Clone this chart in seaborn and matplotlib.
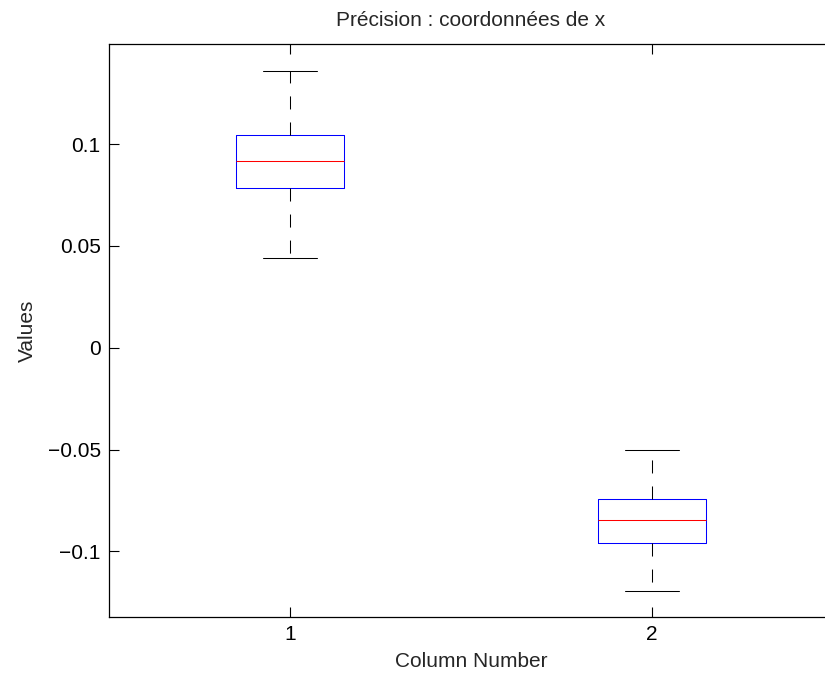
import numpy as np
import pandas as pd
import matplotlib
matplotlib.use("Agg")
import matplotlib.pyplot as plt
import seaborn as sns

# Five-number summaries for each column: lower whisker, Q1, median, Q3, upper whisker
columns = ["1", "2"]
col1_values = [0.0442, 0.0786, 0.0916, 0.1046, 0.1359]
col2_values = [-0.1194, -0.0961, -0.0845, -0.0745, -0.0504]

y_ticks = [-0.1, -0.05, 0, 0.05, 0.1]
y_tick_labels = ["\u22120.1", "\u22120.05", "0", "0.05", "0.1"]

title = "Précision : coordonnées de x"
x_label = "Column Number"
y_label = "Values"

df = pd.DataFrame({
    "column": [columns[0]] * len(col1_values) + [columns[1]] * len(col2_values),
    "value": col1_values + col2_values,
})

sns.set_style("white")
plt.rcParams["font.family"] = ["Liberation Sans", "DejaVu Sans"]
plt.rcParams["lines.scale_dashes"] = True

fig = plt.figure(figsize=(8.25, 6.79), dpi=100)
ax = fig.add_axes([0.1321, 0.0918, 0.8776, 0.8434])

lw = 0.75
dash = (0, (12.5, 12.5))
sns.boxplot(
    data=df, x="column", y="value", order=columns, ax=ax,
    width=0.3, whis=(0, 100), fill=False, showfliers=False,
    linewidth=lw,
    boxprops=dict(color="#0000ff", linewidth=lw),
    medianprops=dict(color="#ff0000", linewidth=lw),
    whiskerprops=dict(color="black", linestyle=dash, linewidth=lw),
    capprops=dict(color="black", linewidth=lw),
)

ax.set_xlim(-0.5, 1.5)
ax.set_ylim(-0.1321, 0.1492)
ax.set_yticks(y_ticks)
ax.set_yticklabels(y_tick_labels)

fs = 15
ax.tick_params(axis="both", which="both", direction="in", length=7, width=0.8,
               labelsize=fs, top=True, right=False, bottom=True, left=True,
               colors="black", pad=6)
for s in ax.spines.values():
    s.set_visible(True)
    s.set_color("black")
    s.set_linewidth(0.9)

ax.set_xlabel(x_label, fontsize=fs, labelpad=6)
ax.set_ylabel(y_label, fontsize=fs, labelpad=8)
ax.set_title(title, fontsize=fs, pad=13)
ax.grid(False)

fig.savefig("out.png", dpi=100)
